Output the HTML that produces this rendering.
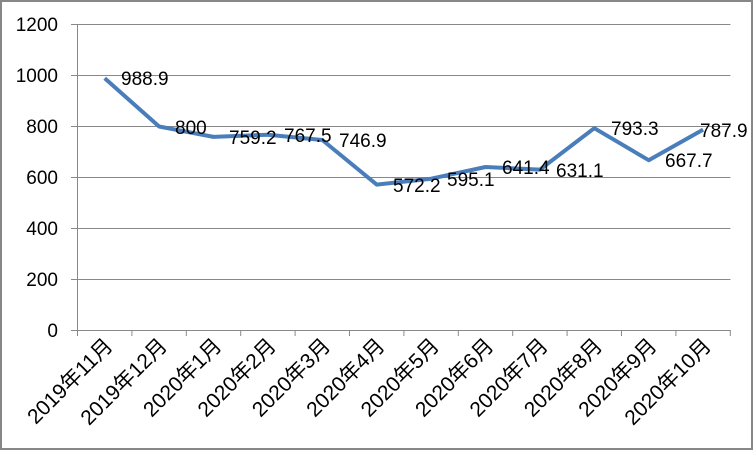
<!DOCTYPE html><html><head><meta charset="utf-8"><style>body{margin:0;background:#fff}</style></head><body>
<svg width="754" height="451" xmlns="http://www.w3.org/2000/svg" font-family="'Liberation Sans','Noto Sans CJK SC',sans-serif">
<rect x="1" y="1" width="751" height="448" fill="#fff" stroke="#878787" stroke-width="2"/>
<g stroke="#888" stroke-width="1">
<line x1="71" y1="24.5" x2="730.5" y2="24.5"/><line x1="71" y1="75.5" x2="730.5" y2="75.5"/><line x1="71" y1="126.5" x2="730.5" y2="126.5"/><line x1="71" y1="177.5" x2="730.5" y2="177.5"/><line x1="71" y1="228.5" x2="730.5" y2="228.5"/><line x1="71" y1="279.5" x2="730.5" y2="279.5"/><line x1="71" y1="330.5" x2="730.5" y2="330.5"/>
<line x1="77.5" y1="24.5" x2="77.5" y2="336"/>
</g>
<g stroke="#888"><line x1="77.5" y1="330" x2="77.5" y2="336"/><line x1="131.9" y1="330" x2="131.9" y2="336"/><line x1="186.3" y1="330" x2="186.3" y2="336"/><line x1="240.7" y1="330" x2="240.7" y2="336"/><line x1="295.1" y1="330" x2="295.1" y2="336"/><line x1="349.5" y1="330" x2="349.5" y2="336"/><line x1="403.9" y1="330" x2="403.9" y2="336"/><line x1="458.3" y1="330" x2="458.3" y2="336"/><line x1="512.7" y1="330" x2="512.7" y2="336"/><line x1="567.1" y1="330" x2="567.1" y2="336"/><line x1="621.5" y1="330" x2="621.5" y2="336"/><line x1="675.9" y1="330" x2="675.9" y2="336"/><line x1="730.3" y1="330" x2="730.3" y2="336"/></g>
<g font-size="19" text-anchor="end" fill="#000">
<text x="58" y="31">1200</text><text x="58" y="82">1000</text><text x="58" y="133">800</text><text x="58" y="184">600</text><text x="58" y="235">400</text><text x="58" y="286">200</text><text x="58" y="337">0</text>
</g>
<polyline fill="none" stroke="#4a7ebb" stroke-width="4" stroke-linejoin="round" points="104.7,78.3 159.1,126.5 213.5,136.9 267.9,134.7 322.3,140 376.7,184.6 431.1,178.7 485.5,167 539.9,169.6 594.3,128.2 648.7,160.2 703.1,129.6"/>
<g font-size="19" fill="#000">
<text x="121" y="85">988.9</text><text x="175" y="134">800</text><text x="229" y="144">759.2</text><text x="284" y="142">767.5</text><text x="339" y="147">746.9</text><text x="393" y="192">572.2</text><text x="447" y="186">595.1</text><text x="502" y="174">641.4</text><text x="556" y="177">631.1</text><text x="611" y="135">793.3</text><text x="665" y="167">667.7</text><text x="700" y="137">787.9</text>
</g>
<g font-size="21" text-anchor="end" fill="#000">
<text transform="translate(114,347) rotate(-45)">2019年11月</text>
<text transform="translate(168.4,347) rotate(-45)">2019年12月</text>
<text transform="translate(222.8,347) rotate(-45)">2020年1月</text>
<text transform="translate(277.2,347) rotate(-45)">2020年2月</text>
<text transform="translate(331.6,347) rotate(-45)">2020年3月</text>
<text transform="translate(386,347) rotate(-45)">2020年4月</text>
<text transform="translate(440.4,347) rotate(-45)">2020年5月</text>
<text transform="translate(494.8,347) rotate(-45)">2020年6月</text>
<text transform="translate(549.2,347) rotate(-45)">2020年7月</text>
<text transform="translate(603.6,347) rotate(-45)">2020年8月</text>
<text transform="translate(658,347) rotate(-45)">2020年9月</text>
<text transform="translate(712.4,347) rotate(-45)">2020年10月</text>
</g>
</svg></body></html>
